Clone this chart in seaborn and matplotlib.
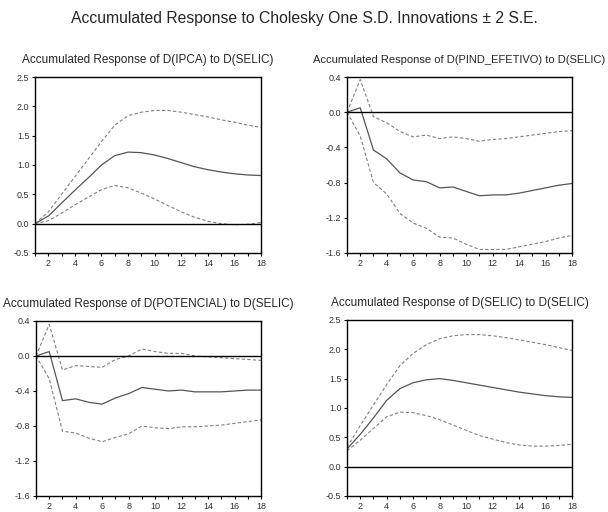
import numpy as np
import matplotlib
matplotlib.use('Agg')
import matplotlib.pyplot as plt
import seaborn as sns

sns.set_style('white')
plt.rcParams['font.family'] = ['Liberation Sans', 'DejaVu Sans']

# Periodos
periods = list(range(1, 19))

# D(IPCA) to D(SELIC)
ipca_resp = [0.0, 0.13, 0.35, 0.57, 0.78, 1.00, 1.16, 1.22, 1.21, 1.17, 1.11, 1.04, 0.97, 0.92, 0.88, 0.85, 0.83, 0.82]
ipca_up = [0.0, 0.20, 0.50, 0.80, 1.10, 1.40, 1.68, 1.84, 1.90, 1.93, 1.93, 1.90, 1.86, 1.82, 1.77, 1.73, 1.68, 1.64]
ipca_lo = [0.0, 0.05, 0.18, 0.32, 0.45, 0.58, 0.65, 0.61, 0.52, 0.42, 0.31, 0.20, 0.11, 0.04, 0.00, -0.02, -0.01, 0.02]

# D(PIND_EFETIVO) to D(SELIC)
pind_resp = [0.0, 0.05, -0.43, -0.53, -0.69, -0.77, -0.79, -0.86, -0.85, -0.90, -0.95, -0.94, -0.94, -0.92, -0.89, -0.86, -0.83, -0.81]
pind_up = [0.0, 0.37, -0.05, -0.12, -0.22, -0.28, -0.26, -0.30, -0.28, -0.30, -0.33, -0.31, -0.30, -0.28, -0.26, -0.24, -0.22, -0.21]
pind_lo = [0.0, -0.27, -0.80, -0.93, -1.15, -1.26, -1.32, -1.42, -1.43, -1.50, -1.56, -1.56, -1.56, -1.53, -1.50, -1.47, -1.43, -1.40]

# D(POTENCIAL) to D(SELIC)
pot_resp = [0.0, 0.05, -0.51, -0.49, -0.53, -0.55, -0.48, -0.43, -0.36, -0.38, -0.40, -0.39, -0.41, -0.41, -0.41, -0.40, -0.39, -0.39]
pot_up = [0.0, 0.36, -0.16, -0.11, -0.12, -0.13, -0.04, 0.00, 0.08, 0.05, 0.03, 0.03, 0.00, -0.01, -0.02, -0.03, -0.04, -0.05]
pot_lo = [0.0, -0.26, -0.86, -0.88, -0.94, -0.98, -0.93, -0.89, -0.80, -0.82, -0.83, -0.81, -0.81, -0.80, -0.79, -0.77, -0.75, -0.73]

# D(SELIC) to D(SELIC)
selic_resp = [0.30, 0.55, 0.83, 1.13, 1.33, 1.43, 1.48, 1.50, 1.47, 1.43, 1.39, 1.35, 1.31, 1.27, 1.24, 1.21, 1.19, 1.18]
selic_up = [0.33, 0.70, 1.05, 1.40, 1.72, 1.93, 2.08, 2.18, 2.23, 2.25, 2.25, 2.23, 2.20, 2.16, 2.12, 2.08, 2.03, 1.98]
selic_lo = [0.27, 0.45, 0.65, 0.85, 0.93, 0.92, 0.87, 0.80, 0.71, 0.62, 0.53, 0.47, 0.41, 0.37, 0.35, 0.35, 0.36, 0.38]

panels = [
    ('Accumulated Response of D(IPCA) to D(SELIC)', ipca_resp, ipca_up, ipca_lo,
     (-0.5, 2.5), [-0.5, 0.0, 0.5, 1.0, 1.5, 2.0, 2.5]),
    ('Accumulated Response of D(PIND_EFETIVO) to D(SELIC)', pind_resp, pind_up, pind_lo,
     (-1.6, 0.4), [-1.6, -1.2, -0.8, -0.4, 0.0, 0.4]),
    ('Accumulated Response of D(POTENCIAL) to D(SELIC)', pot_resp, pot_up, pot_lo,
     (-1.6, 0.4), [-1.6, -1.2, -0.8, -0.4, 0.0, 0.4]),
    ('Accumulated Response of D(SELIC) to D(SELIC)', selic_resp, selic_up, selic_lo,
     (-0.5, 2.5), [-0.5, 0.0, 0.5, 1.0, 1.5, 2.0, 2.5]),
]

# positions des axes (left, bottom, width, height)
boxes = [
    [0.0576, 0.5059, 0.3717, 0.3437],
    [0.5707, 0.5059, 0.3701, 0.3437],
    [0.0592, 0.0313, 0.3701, 0.3418],
    [0.5707, 0.0313, 0.3701, 0.3438],
]
title_sizes = [8.5, 8.0, 8.5, 8.5]

fig = plt.figure(figsize=(6.08, 5.12), dpi=100)
fig.suptitle('Accumulated Response to Cholesky One S.D. Innovations \u00b1 2 S.E.',
             x=0.5, y=0.978, fontsize=11.3)

for box, tsize, (title, resp, up, lo, ylim, yticks) in zip(boxes, title_sizes, panels):
    ax = fig.add_axes(box)
    sns.lineplot(x=periods, y=resp, ax=ax, color='#555555', linewidth=0.9)
    sns.lineplot(x=periods, y=up, ax=ax, color='#808080', linewidth=0.8, linestyle=(0, (3, 2)))
    sns.lineplot(x=periods, y=lo, ax=ax, color='#808080', linewidth=0.8, linestyle=(0, (3, 2)))
    ax.axhline(0, color='black', linewidth=1.0)
    ax.set_xlim(1, 18)
    ax.set_ylim(*ylim)
    ax.set_xticks(range(1, 19), minor=True)
    ax.set_xticks(range(2, 19, 2))
    ax.set_yticks(yticks)
    ax.set_yticklabels([f'{v:.1f}' for v in yticks])
    ax.tick_params(axis='both', which='both', direction='out', length=2.5, width=0.8,
                   labelsize=6.5, labelcolor='#333333', color='black', pad=1.5)
    ax.tick_params(axis='x', which='minor', bottom=True, length=2.5)
    ax.tick_params(axis='x', which='major', bottom=True)
    ax.tick_params(axis='y', left=True)
    for side in ['left', 'bottom', 'top', 'right']:
        ax.spines[side].set_visible(True)
        ax.spines[side].set_color('black')
        ax.spines[side].set_linewidth(1.0)
    ax.set_title(title, fontsize=tsize, pad=10)

fig.savefig('out.png', dpi=100)
